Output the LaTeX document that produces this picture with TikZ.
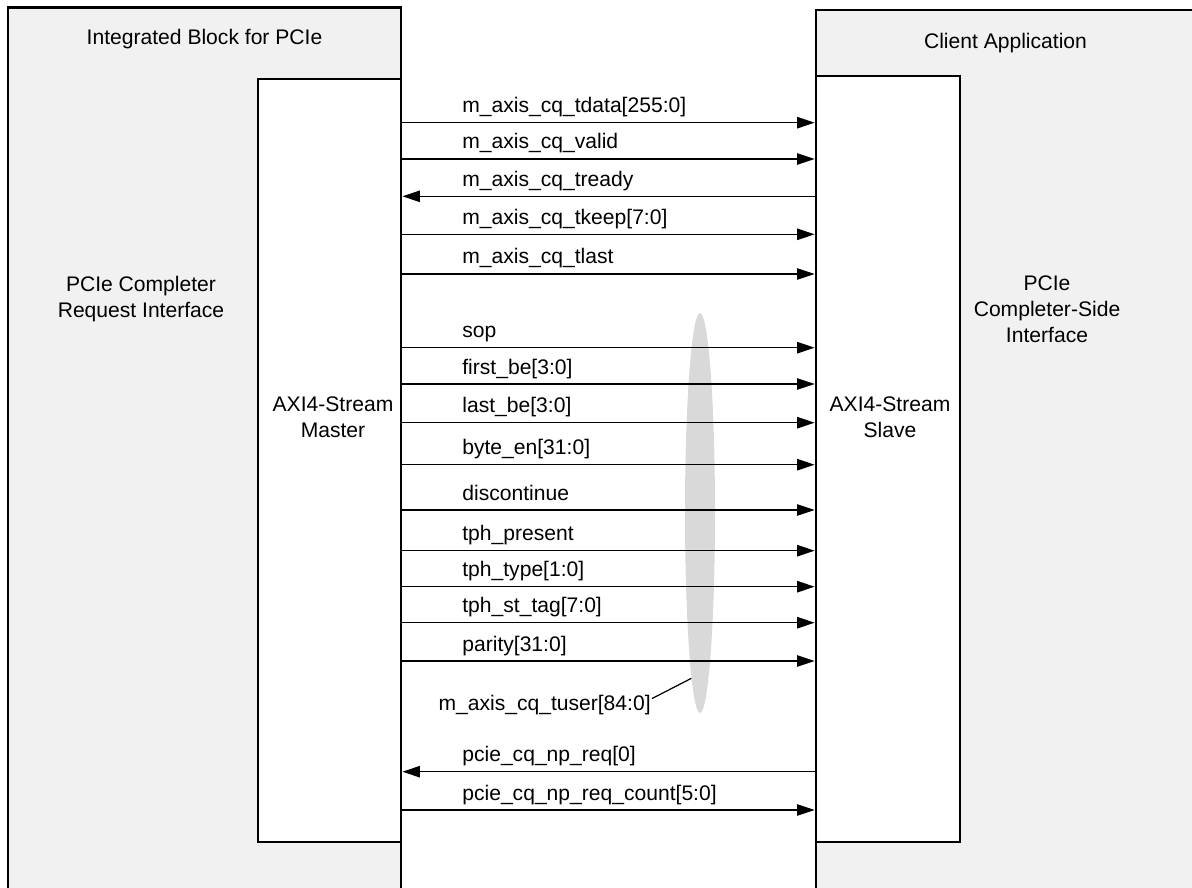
\documentclass[tikz,border=0pt]{standalone}
\usepackage{fontspec}
\setmainfont{Liberation Sans}
\usepackage{xcolor}
\usetikzlibrary{arrows.meta,positioning,calc,shapes.geometric}
\definecolor{blockgray}{HTML}{F1F1F1}
\definecolor{bundlegray}{HTML}{D9D9D9}

\begin{document}
\begin{tikzpicture}[x=0.02cm, y=-0.02cm, font=\fontsize{12}{14.8}\selectfont]
  \tikzstyle{block}=[draw, line width=1.6pt, fill=blockgray, inner sep=0pt]
  \tikzstyle{port}=[draw, line width=1.6pt, fill=white, inner sep=0pt]
  \tikzstyle{sig}=[line width=0.7pt, -{Triangle[length=10pt, width=6.5pt]}]
  \tikzstyle{lbl}=[anchor=base west, inner sep=0pt]
  \useasboundingbox (0,0) rectangle (1192,888);
  \node[block, minimum width=7.86cm, minimum height=17.85cm] (ib) at (204.5,453.75) {};
  \node[block, minimum width=7.88cm, minimum height=17.8cm] (client) at (1013,455) {};
  \node[port, minimum width=2.86cm, minimum height=15.26cm] (master) at (329.5,460.5) {};
  \node[port, minimum width=2.88cm, minimum height=15.32cm] (slave) at (888,459) {};
  \node at (204.5,39.3) {Integrated Block for PCIe};
  \node at (1005.5,42.7) {Client Application};
  \node[align=center] (reqif) at (141,299) {PCIe Completer\\Request Interface};
  \node[align=center] (sideif) at (1047,309) {PCIe\\Completer-Side\\Interface};
  \node[align=center] (mlbl) at (333,417.5) {AXI4-Stream\\Master};
  \node[align=center] (slbl) at (890,417.5) {AXI4-Stream\\Slave};
  \node[ellipse, fill=bundlegray, inner sep=0pt, minimum width=0.6cm, minimum height=8cm] (bundle) at (700,513) {};
  \foreach \y/\name [count=\i] in {122.7/{m\_axis\_cq\_tdata[255:0]}, 159/{m\_axis\_cq\_valid},
      234.3/{m\_axis\_cq\_tkeep[7:0]}, 274/{m\_axis\_cq\_tlast}, 347.7/{sop},
      384/{first\_be[3:0]}, 422.7/{last\_be[3:0]}, 464.7/{byte\_en[31:0]},
      510/{discontinue}, 550.7/{tph\_present}, 586.7/{tph\_type[1:0]},
      622.7/{tph\_st\_tag[7:0]}, 661/{parity[31:0]}, 810/{pcie\_cq\_np\_req\_count[5:0]}} {
    \draw[sig] (master.east |- 0,\y) -- (slave.west |- 0,\y);
    \node[lbl] (out\i) at (462,\y-10) {\name};
  }
  \foreach \y/\name [count=\i] in {196.3/{m\_axis\_cq\_tready}, 771.7/{pcie\_cq\_np\_req[0]}} {
    \draw[sig] (slave.west |- 0,\y) -- (master.east |- 0,\y);
    \node[lbl] (in\i) at (462,\y-10) {\name};
  }
  \node[anchor=base east, inner sep=0pt] (tuser) at (651,710) {m\_axis\_cq\_tuser[84:0]};
  \draw[line width=0.7pt] ($(tuser.east)+(1,-6)$) -- (bundle.267.7);
\end{tikzpicture}
\end{document}
